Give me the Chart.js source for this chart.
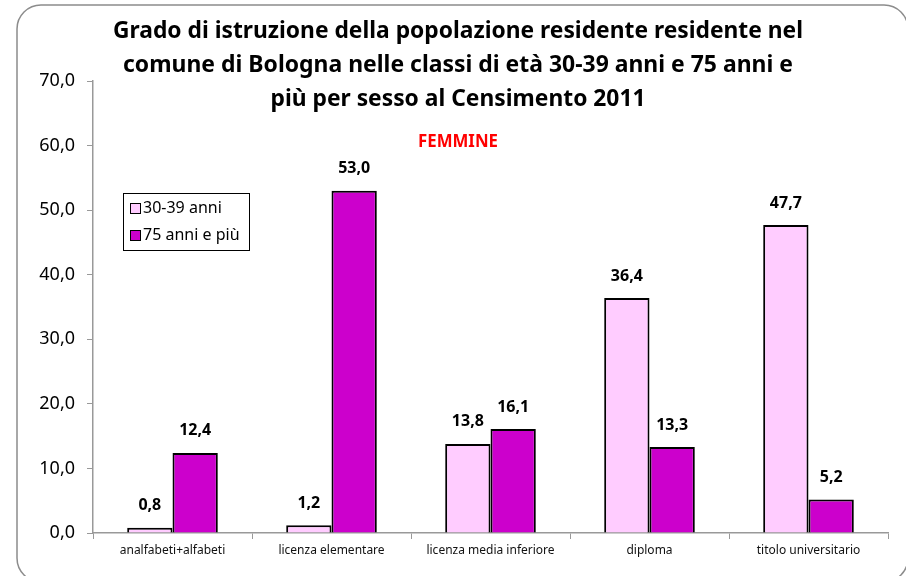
<!DOCTYPE html>
<html>
<head>
<meta charset="utf-8">
<script src="https://cdn.jsdelivr.net/npm/chart.js@4"></script>
<style>
  html, body { margin: 0; padding: 0; background: #fff; }
  #wrap { width: 906px; height: 576px; position: relative; }
</style>
</head>
<body>
<div id="wrap"><canvas id="chart" width="906" height="576"></canvas></div>
<script>
const categories = ["analfabeti+alfabeti", "licenza elementare", "licenza media inferiore", "diploma", "titolo universitario"];
const seriesNames = ["30-39 anni", "75 anni e più"];
const values3039 = [0.8, 1.2, 13.8, 36.4, 47.7];
const values75 = [12.4, 53.0, 16.1, 13.3, 5.2];
const yTicks = [0, 10, 20, 30, 40, 50, 60, 70];
const titleLines = [
  "Grado di istruzione della popolazione residente residente nel",
  "comune di Bologna nelle classi di età 30-39 anni e 75 anni e",
  "più per sesso al Censimento 2011"
];
const subtitle = "FEMMINE";
const colors = ["#FFCCFF", "#CC00CC"];

function fmt(v) {
  return v.toFixed(1).replace(".", ",");
}

// frame, title, subtitle, legend and value labels
const decorPlugin = {
  id: "decor",
  beforeDraw(chart) {
    const ctx = chart.ctx;
    ctx.save();
    ctx.fillStyle = "#fff";
    ctx.fillRect(0, 0, chart.width, chart.height);
    ctx.strokeStyle = "#8c8c8c";
    ctx.lineWidth = 1.5;
    ctx.beginPath();
    ctx.roundRect(17, 5, 891, 577, 24);
    ctx.stroke();
    ctx.restore();
  },
  afterDatasetsDraw(chart) {
    const ctx = chart.ctx;
    ctx.save();
    ctx.fillStyle = "#000";
    ctx.font = "bold 16px 'Noto Sans'";
    ctx.textAlign = "center";
    ctx.textBaseline = "middle";
    chart.data.datasets.forEach((ds, i) => {
      chart.getDatasetMeta(i).data.forEach((bar, j) => {
        ctx.fillText(fmt(ds.data[j]), bar.x, bar.y - 22, 34);
      });
    });
    ctx.restore();
  },
  afterDraw(chart) {
    const ctx = chart.ctx;
    ctx.save();
    ctx.textAlign = "center";
    ctx.textBaseline = "middle";
    ctx.fillStyle = "#000";
    ctx.font = "bold 24px 'Noto Sans'";
    const widths = [690, 670, 375];
    titleLines.forEach((t, i) => {
      ctx.fillText(t, 458, 31 + i * 34, widths[i]);
    });
    ctx.fillStyle = "#FF0000";
    ctx.font = "bold 17px 'Noto Sans'";
    ctx.fillText(subtitle, 458, 142, 80);

    // legend
    ctx.strokeStyle = "#000";
    ctx.lineWidth = 1;
    ctx.strokeRect(123.5, 193.5, 126, 57);
    ctx.textAlign = "left";
    ctx.font = "16px 'Noto Sans'";
    seriesNames.forEach((name, i) => {
      const y = 208 + i * 27;
      ctx.fillStyle = colors[i];
      ctx.fillRect(130, y - 5, 10, 10);
      ctx.strokeRect(130.5, y - 4.5, 10, 10);
      ctx.fillStyle = "#000";
      ctx.fillText(name, 143, y, i === 0 ? 86 : 103);
    });
    ctx.restore();
  }
};

new Chart(document.getElementById("chart"), {
  type: "bar",
  data: {
    labels: categories,
    datasets: [
      {
        label: seriesNames[0],
        data: values3039,
        backgroundColor: colors[0],
        borderColor: "#000",
        borderWidth: 2,
        categoryPercentage: 0.57,
        barPercentage: 1
      },
      {
        label: seriesNames[1],
        data: values75,
        backgroundColor: colors[1],
        borderColor: "#000",
        borderWidth: 2,
        categoryPercentage: 0.57,
        barPercentage: 1
      }
    ]
  },
  options: {
    responsive: false,
    animation: false,
    layout: { padding: { top: 81, right: 18, left: 0, bottom: 0 } },
    plugins: {
      legend: { display: false },
      tooltip: { enabled: false }
    },
    scales: {
      x: {
        grid: { drawOnChartArea: false, tickLength: 6, color: "#999", offset: true },
        border: { color: "#999", width: 1.5 },
        ticks: { color: "#111", font: { family: "'Noto Sans'", size: 12 }, padding: 4, maxRotation: 0 },
        afterFit(s) { s.height = 43; }
      },
      y: {
        min: 0,
        max: 70,
        afterBuildTicks(s) { s.ticks = yTicks.map(v => ({ value: v })); },
        grid: { drawOnChartArea: false, tickLength: 6, color: "#999" },
        border: { color: "#999", width: 1.5 },
        ticks: {
          color: "#000",
          font: { family: "'Noto Sans'", size: 18 },
          padding: 12,
          callback: v => fmt(v)
        },
        afterFit(s) { s.width = 93; }
      }
    }
  },
  plugins: [decorPlugin]
});
</script>
</body>
</html>
